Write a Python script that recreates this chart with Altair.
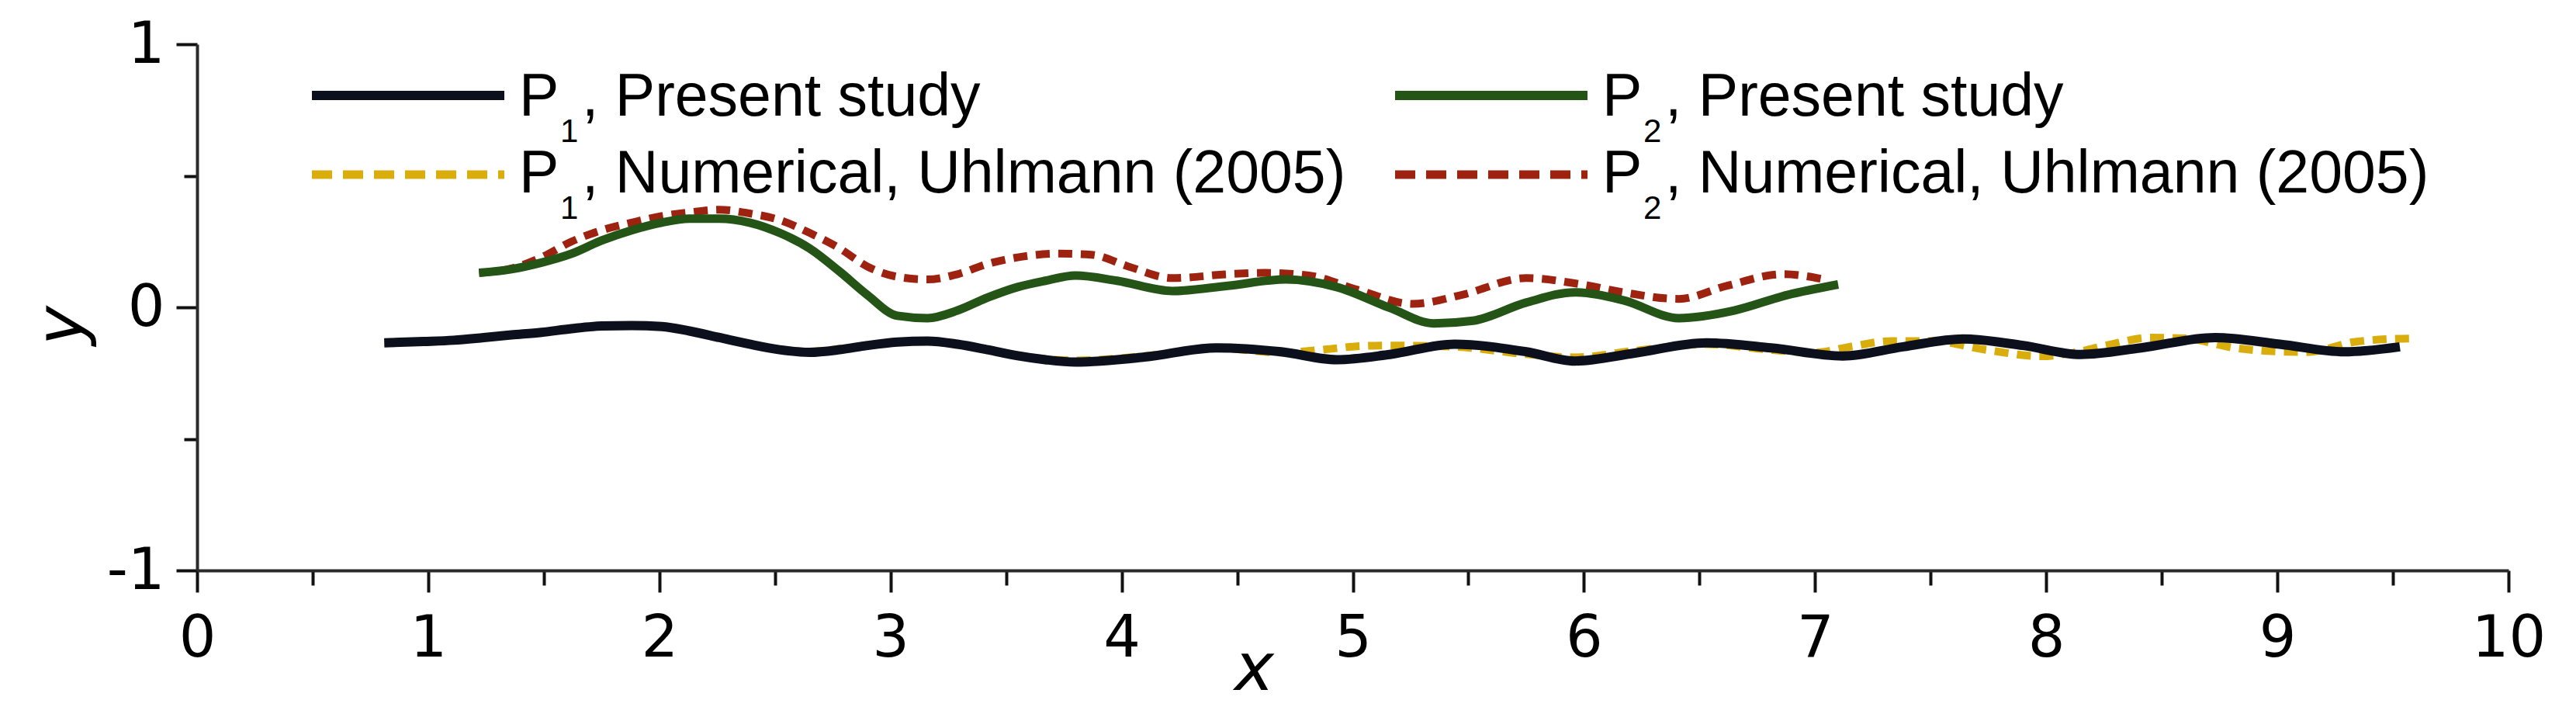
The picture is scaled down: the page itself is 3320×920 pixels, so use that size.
import altair as alt
import pandas as pd

# ---------------- data ----------------
p1_present_x = [0.81, 0.98, 1.11, 1.24, 1.36, 1.49, 1.62, 1.75, 1.88, 2.01, 2.13, 2.26, 2.39,
                2.52, 2.65, 2.78, 2.90, 3.03, 3.16, 3.29, 3.42, 3.55, 3.67, 3.80, 4.10, 4.41,
                4.69, 4.93, 5.16, 5.44, 5.75, 5.96, 6.22, 6.53, 6.81, 7.12, 7.38, 7.64, 7.90,
                8.15, 8.41, 8.73, 9.01, 9.29, 9.53]
p1_present_y = [-0.135, -0.130, -0.125, -0.115, -0.105, -0.095, -0.081, -0.071, -0.069, -0.073,
                -0.090, -0.115, -0.140, -0.161, -0.171, -0.161, -0.145, -0.132, -0.128, -0.140,
                -0.161, -0.184, -0.199, -0.208, -0.189, -0.154, -0.169, -0.199, -0.179, -0.140,
                -0.169, -0.204, -0.174, -0.135, -0.154, -0.185, -0.150, -0.120, -0.145, -0.179,
                -0.154, -0.115, -0.140, -0.169, -0.150]

p1_uhlmann_x = [0.81, 0.98, 1.11, 1.24, 1.36, 1.49, 1.62, 1.75, 1.88, 2.01, 2.13, 2.26, 2.39,
                2.52, 2.65, 2.78, 2.90, 3.03, 3.16, 3.29, 3.42, 3.55, 3.67, 3.80, 4.10, 4.41,
                4.69, 4.88, 5.02, 5.16, 5.44, 5.75, 5.96, 6.22, 6.53, 6.81, 7.00, 7.15, 7.33,
                7.50, 7.73, 7.98, 8.12, 8.26, 8.45, 8.60, 8.82, 9.00, 9.13, 9.33, 9.47, 9.60]
p1_uhlmann_y = [-0.135, -0.130, -0.125, -0.115, -0.105, -0.095, -0.081, -0.071, -0.069, -0.073,
                -0.090, -0.115, -0.140, -0.161, -0.168, -0.158, -0.145, -0.132, -0.128, -0.140,
                -0.161, -0.182, -0.196, -0.202, -0.185, -0.155, -0.172, -0.160, -0.148, -0.145,
                -0.150, -0.178, -0.190, -0.165, -0.140, -0.162, -0.172, -0.150, -0.128, -0.128,
                -0.160, -0.186, -0.172, -0.145, -0.115, -0.118, -0.155, -0.168, -0.170, -0.132,
                -0.121, -0.118]

p2_present_x = [1.22, 1.36, 1.49, 1.62, 1.75, 1.88, 2.01, 2.13, 2.26, 2.39, 2.52, 2.65, 2.78,
                2.90, 3.03, 3.16, 3.29, 3.42, 3.55, 3.67, 3.80, 3.98, 4.22, 4.46, 4.71, 4.93,
                5.16, 5.35, 5.52, 5.75, 5.96, 6.17, 6.41, 6.65, 6.88, 7.10]
p2_present_y = [0.131, 0.145, 0.170, 0.204, 0.254, 0.293, 0.322, 0.337, 0.337, 0.322, 0.283,
                0.224, 0.136, 0.047, -0.032, -0.041, -0.012, 0.037, 0.077, 0.101, 0.121, 0.101,
                0.062, 0.082, 0.106, 0.077, -0.002, -0.061, -0.051, 0.018, 0.057, 0.027, -0.041,
                -0.012, 0.047, 0.087]

p2_uhlmann_x = [1.22, 1.36, 1.49, 1.62, 1.75, 1.88, 2.01, 2.13, 2.26, 2.39, 2.52, 2.65, 2.78,
                2.90, 3.03, 3.16, 3.29, 3.42, 3.55, 3.73, 3.87, 4.03, 4.22, 4.46, 4.62, 4.81,
                5.02, 5.26, 5.47, 5.75, 5.99, 6.17, 6.41, 6.62, 6.86, 7.04]
p2_uhlmann_y = [0.131, 0.148, 0.190, 0.250, 0.293, 0.322, 0.347, 0.361, 0.371, 0.357, 0.332,
                0.283, 0.224, 0.155, 0.116, 0.106, 0.126, 0.165, 0.190, 0.204, 0.200, 0.155,
                0.111, 0.126, 0.131, 0.121, 0.067, 0.013, 0.047, 0.111, 0.087, 0.057, 0.032,
                0.082, 0.126, 0.106]

x_ticks = [i * 0.5 for i in range(21)]
y_ticks = [-1, -0.5, 0, 0.5, 1]

series_names = ["Present study", "Numerical, Uhlmann (2005)"]

# ---------------- styling ----------------
W, H = 2979, 678
TICK_FONT = "DejaVu Sans"
LEG_FONT = "Liberation Sans"
C_P1 = "#0c0f1c"
C_P1N = "#d9ae0c"
C_P2 = "#245416"
C_P2N = "#9e2210"
DASH = [18, 11]

x_axis = alt.Axis(
    values=x_ticks,
    labelExpr="datum.value % 1 === 0 ? toString(datum.value) : ''",
    tickSize={"condition": {"test": "datum.value % 1 === 0", "value": 28}, "value": 19},
    tickWidth=4, tickColor="#111111",
    domainWidth=4, domainColor="#2a2a2a",
    labelFont=TICK_FONT, labelFontSize=75, labelColor="#000000", labelPadding=23,
    labelFlush=False, labelOverlap=False, grid=False,
    title="x", titleFont=TICK_FONT, titleFontSize=86, titleFontStyle="italic",
    titleFontWeight="normal", titleColor="#000000",
    titleX=1362, titleY=127, titleAlign="center", titleBaseline="middle",
)
y_axis = alt.Axis(
    values=y_ticks,
    labelExpr="datum.value % 1 === 0 ? toString(datum.value) : ''",
    tickSize={"condition": {"test": "datum.value % 1 === 0", "value": 27}, "value": 17},
    tickWidth=4, tickColor="#111111",
    domainWidth=4, domainColor="#2a2a2a",
    labelFont=TICK_FONT, labelFontSize=75, labelColor="#000000", labelPadding=15,
    labelFlush=False, labelOverlap=False, grid=False,
    title="y", titleFont=TICK_FONT, titleFontSize=86, titleFontStyle="italic",
    titleFontWeight="normal", titleColor="#000000",
    titleX=-175, titleY=362, titleAngle=270, titleAlign="center", titleBaseline="middle",
)

xs = alt.Scale(domain=[0, 10], nice=False, zero=False)
ys = alt.Scale(domain=[-1, 1], nice=False, zero=False)


def curve(xv, yv, color, dash=None, width=10):
    df = pd.DataFrame({"x": xv, "y": yv})
    kw = dict(color=color, strokeWidth=width, interpolate="monotone", strokeCap="butt",
              strokeJoin="round")
    if dash:
        kw["strokeDash"] = dash
    return alt.Chart(df).mark_line(**kw).encode(
        x=alt.X("x:Q", scale=xs, axis=x_axis),
        y=alt.Y("y:Q", scale=ys, axis=y_axis),
    )


layers = [
    curve(p1_uhlmann_x, p1_uhlmann_y, C_P1N, DASH, 10),
    curve(p1_present_x, p1_present_y, C_P1, None, 12),
    curve(p2_uhlmann_x, p2_uhlmann_y, C_P2N, DASH, 10),
    curve(p2_present_x, p2_present_y, C_P2, None, 11),
]

# ---------------- legend (two columns x two rows) ----------------
one = alt.Data(values=[{"k": 0}])
col_x = [148, 1544]
row_y = [66, 168]
row_base = [92, 191]
SW_LEN = 248
entries = [
    (0, 0, "1", C_P1, None),
    (1, 0, "2", C_P2, None),
    (0, 1, "1", C_P1N, DASH),
    (1, 1, "2", C_P2N, DASH),
]
for col, row, sub, color, dash in entries:
    x1 = col_x[col]
    kw = dict(color=color, strokeWidth=12, strokeCap="butt")
    if dash:
        kw["strokeDash"] = [26, 14]
        kw["strokeWidth"] = 11
    layers.append(alt.Chart(one).mark_rule(**kw).encode(
        x=alt.value(x1), x2=alt.value(x1 + SW_LEN), y=alt.value(row_y[row])))
    tx = x1 + SW_LEN + 19
    base = row_base[row]
    layers.append(alt.Chart(one).mark_text(
        text="P", font=LEG_FONT, fontSize=77, align="left", baseline="alphabetic",
        color="#000000").encode(x=alt.value(tx), y=alt.value(base)))
    layers.append(alt.Chart(one).mark_text(
        text=sub, font=LEG_FONT, fontSize=42, align="left", baseline="alphabetic",
        color="#000000").encode(x=alt.value(tx + 53), y=alt.value(base + 34)))
    layers.append(alt.Chart(one).mark_text(
        text=", " + series_names[row], font=LEG_FONT, fontSize=77, align="left",
        baseline="alphabetic", color="#000000").encode(x=alt.value(tx + 81), y=alt.value(base)))

chart = alt.layer(*layers).properties(
    width=W, height=H,
    autosize=alt.AutoSizeParams(type="none"),
    padding={"left": 246, "top": 49, "right": 70, "bottom": 175},
    background="white",
).configure_view(stroke=None)

chart.save("out.html", embed_options={"renderer": "svg", "actions": False})
